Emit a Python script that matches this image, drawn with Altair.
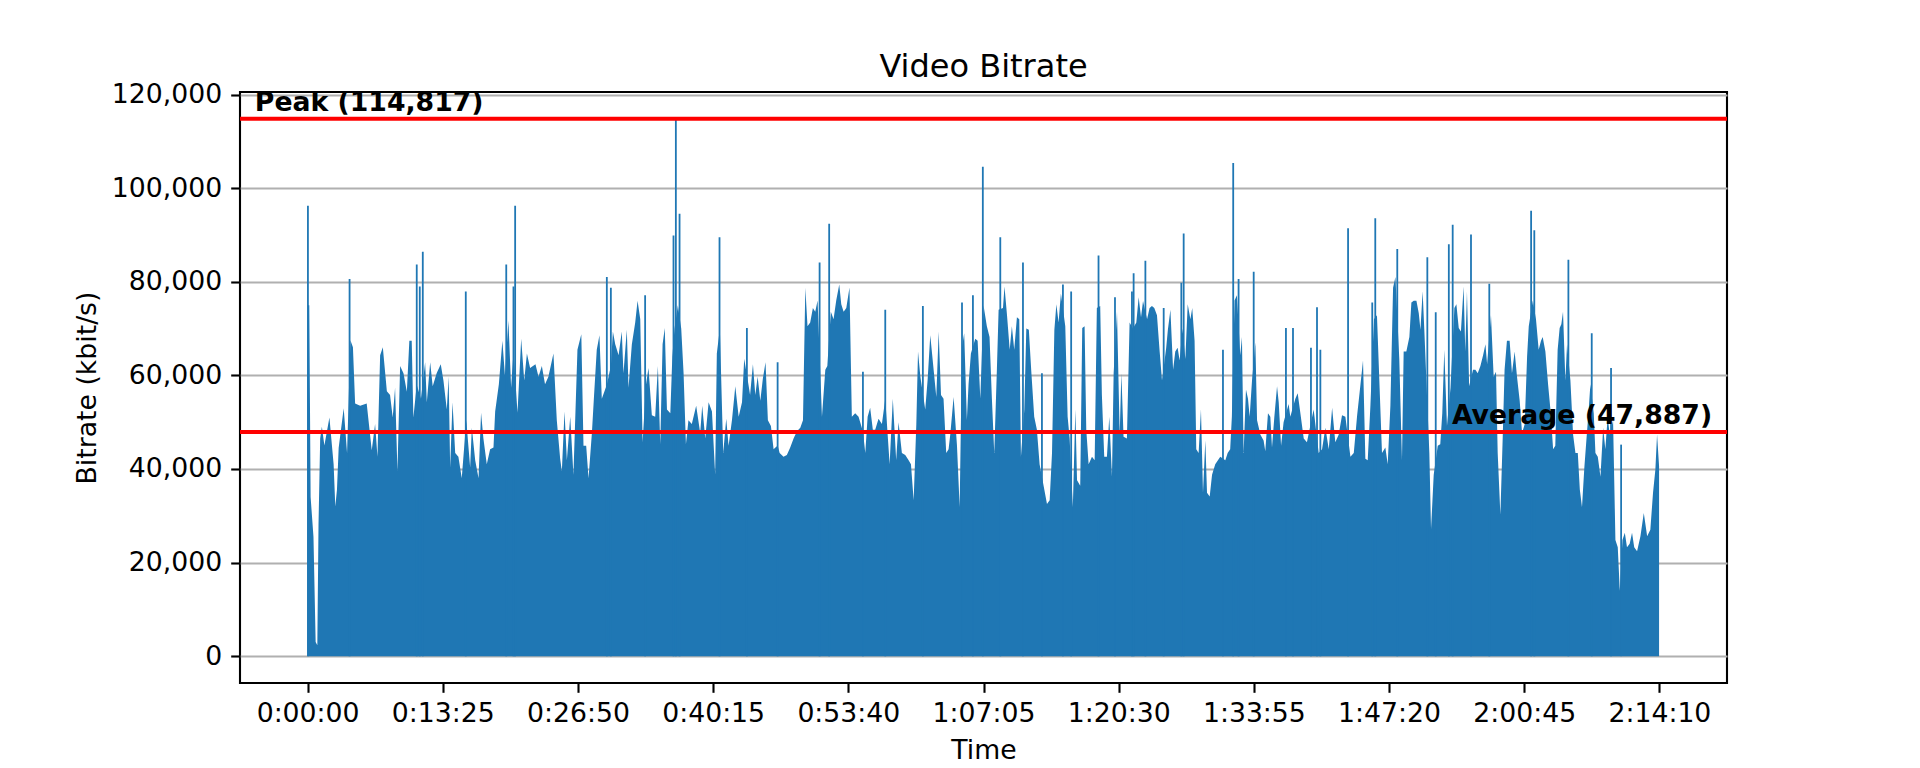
import altair as alt
import pandas as pd

# ---------------- data (seconds, kbit/s) ----------------
seg_a = [(0, 75000), (10, 75000), (18, 34000), (35, 25500), (48, 3000), (58, 2300), (65, 28000),
         (75, 46500), (85, 49000), (100, 45000), (130, 51000), (155, 41000), (165, 32000),
         (175, 35600), (185, 44500), (215, 53000), (235, 43400), (255, 67500), (270, 66000),
         (283, 54000), (313, 53500), (352, 54000), (382, 44000), (402, 49600), (416, 42600),
         (432, 64300), (448, 66000), (472, 56600), (491, 55800), (507, 51000), (521, 57350),
         (535, 39500), (551, 62000), (571, 60450), (591, 56500), (606, 67400), (620, 67400),
         (630, 51000), (650, 58000), (675, 55000), (700, 62800), (710, 54250), (730, 62800),
         (745, 57700), (769, 60500), (793, 62400), (809, 58900), (829, 52700), (840, 59700),
         (849, 40300), (863, 54250), (879, 43400), (898, 42600), (918, 38000), (945, 50400),
         (968, 40300), (978, 48800), (998, 41850)]
seg_b = [(1018, 38000), (1033, 52000), (1047, 46500), (1067, 41000), (1087, 44200), (1107, 44600),
         (1117, 52300), (1139, 58100), (1160, 67400), (1175, 60000), (1196, 71700), (1212, 57350),
         (1226, 65000), (1250, 52000), (1272, 67800), (1290, 58900), (1306, 64700), (1325, 61600),
         (1357, 62400), (1375, 59700), (1395, 62000), (1414, 58100), (1434, 59700), (1464, 64700),
         (1484, 50400), (1504, 42200), (1514, 39500), (1530, 52300), (1544, 41850), (1564, 51150),
         (1583, 38750), (1607, 65500), (1630, 68800), (1643, 44950), (1659, 44950), (1673, 38000),
         (1693, 47700), (1706, 55800), (1722, 65500), (1738, 68600), (1752, 55000), (1782, 58000),
         (1806, 62000), (1818, 69400), (1832, 66650), (1852, 64300), (1871, 69400), (1881, 60450),
         (1901, 69750), (1911, 57350), (1931, 66650), (1951, 71300), (1965, 75950), (1981, 72000),
         (1995, 45700)]
seg_c = [(2015, 58000), (2030, 61600), (2050, 51500), (2070, 51150), (2086, 62000), (2100, 45300),
         (2114, 66650), (2127, 70100), (2140, 52700), (2160, 51900), (2172, 64000), (2185, 70000),
         (2205, 75000), (2225, 70000), (2239, 60450), (2253, 45300), (2268, 50400), (2288, 49600),
         (2314, 53500), (2338, 47700), (2350, 53500), (2368, 46500), (2388, 54250), (2408, 52300),
         (2427, 38750), (2437, 64700), (2455, 70000), (2475, 43400), (2493, 50750), (2507, 44950),
         (2527, 50400), (2547, 57700), (2567, 51150), (2587, 54250), (2600, 63550), (2625, 58100),
         (2635, 55800), (2652, 62400), (2666, 55800), (2680, 59700), (2696, 54600), (2711, 59300),
         (2727, 62800), (2741, 50400), (2759, 49200), (2775, 44200), (2799, 45000), (2811, 43400),
         (2834, 42600), (2854, 43000), (2874, 44600), (2894, 46500), (2914, 48050), (2934, 48800),
         (2950, 50400), (2964, 78700), (2977, 70500), (2993, 71300)]
seg_d = [(3009, 74400), (3023, 73600), (3037, 76000), (3063, 51150), (3083, 61200), (3095, 62000),
         (3116, 73600), (3132, 72000), (3148, 76000), (3166, 79400), (3178, 75200), (3192, 73600),
         (3208, 74400), (3227, 78800), (3241, 51150), (3261, 51900), (3281, 51150), (3307, 48000),
         (3321, 43400), (3335, 51150), (3350, 53100), (3366, 48400), (3380, 48400), (3400, 50750),
         (3420, 49600), (3440, 55000), (3466, 41000), (3485, 55000), (3505, 41850), (3519, 50000),
         (3539, 43400), (3559, 43000), (3579, 41850), (3593, 41000), (3609, 33300), (3625, 49600),
         (3635, 65100), (3649, 59700), (3678, 52700), (3692, 58900), (3708, 68600), (3728, 61200),
         (3744, 55400), (3758, 69400), (3772, 55800), (3787, 55000), (3803, 43400), (3817, 44200),
         (3827, 47300), (3847, 55400), (3867, 45000), (3883, 31800), (3897, 66000), (3910, 69000),
         (3926, 50400), (3936, 58100), (3950, 64700), (3976, 67800), (3990, 67400)]
seg_e = [(4006, 55000), (4025, 75000), (4045, 70500), (4061, 68200), (4075, 55000), (4089, 43400),
         (4105, 61600), (4115, 74000), (4141, 74400), (4150, 79000), (4165, 72850), (4181, 65500),
         (4194, 70500), (4208, 65500), (4224, 72400), (4238, 72000), (4248, 42600), (4268, 52700),
         (4280, 70000), (4295, 69750), (4309, 61200), (4327, 51150), (4343, 48400), (4359, 41000),
         (4387, 35600), (4403, 32500), (4419, 33300), (4433, 43400), (4447, 69750), (4459, 75200),
         (4472, 71300), (4486, 77500), (4512, 70500), (4526, 51150), (4538, 46500), (4557, 31800),
         (4572, 52700), (4582, 37600), (4601, 36400), (4613, 70100), (4627, 70500), (4637, 48400),
         (4651, 41000), (4671, 42600), (4687, 41850), (4700, 74400), (4720, 74800), (4730, 55800),
         (4744, 42600), (4760, 42600), (4774, 51150), (4790, 38350), (4800, 60450), (4820, 73600),
         (4836, 47300), (4846, 60450), (4859, 46900), (4879, 46500), (4895, 71300), (4915, 70000),
         (4935, 71300), (4949, 76700), (4963, 72400), (4975, 75900), (4999, 72000)]
seg_f = [(5014, 74400), (5028, 74800), (5042, 74400), (5058, 72850), (5074, 65100), (5088, 58900),
         (5113, 65900), (5123, 69750), (5138, 74000), (5154, 61200), (5167, 65100), (5181, 65900),
         (5193, 63200), (5210, 70000), (5227, 63500), (5241, 75200), (5257, 72000), (5268, 74400),
         (5282, 67400), (5292, 44200), (5306, 43400), (5320, 52700), (5332, 34900), (5346, 46100),
         (5356, 34900), (5372, 34100), (5386, 38750), (5405, 41000), (5421, 41850), (5435, 42600),
         (5465, 41850), (5479, 43400), (5494, 44200), (5504, 51150), (5520, 76000), (5534, 77100),
         (5554, 64300), (5564, 68200), (5574, 43400), (5588, 57000), (5600, 55000), (5610, 51150),
         (5624, 58900), (5644, 67000), (5654, 50400), (5674, 47300), (5693, 46100), (5703, 43800),
         (5719, 51900), (5733, 51150), (5743, 44600), (5757, 51150), (5773, 57700), (5783, 54250),
         (5797, 44950), (5812, 50000), (5842, 53900), (5852, 51150), (5882, 55000), (5896, 56200),
         (5912, 51900), (5932, 46500), (5951, 45700), (5991, 52700)]
seg_g = [(6021, 43400), (6041, 44200), (6061, 48800), (6081, 44200), (6101, 53100), (6120, 45700),
         (6140, 47300), (6160, 51500), (6180, 51150), (6210, 42600), (6230, 43400), (6250, 51500),
         (6270, 58100), (6285, 63200), (6299, 42200), (6313, 41850), (6329, 53500), (6350, 72000),
         (6368, 72850), (6398, 43400), (6418, 44600), (6432, 41000), (6448, 53500), (6464, 78700),
         (6478, 81000), (6501, 63500), (6517, 41850), (6527, 65100), (6543, 65100), (6561, 68200),
         (6573, 75550), (6587, 75950), (6603, 75950), (6617, 73250), (6627, 69750), (6640, 78000),
         (6650, 69750), (6680, 43400), (6690, 27100), (6706, 38750), (6730, 44950), (6745, 45300),
         (6757, 51900), (6769, 65500), (6785, 49200), (6806, 57350), (6829, 74400), (6841, 75200),
         (6855, 70100), (6868, 69400), (6884, 79000), (6894, 65100), (6904, 77900), (6917, 57700),
         (6940, 61200), (6954, 61200), (6968, 60450), (6984, 62000)]
seg_h = [(7000, 64300), (7014, 66650), (7024, 62400), (7047, 72850), (7063, 59700), (7077, 60800),
         (7087, 43400), (7103, 30200), (7117, 46900), (7128, 61200), (7142, 67400), (7158, 67400),
         (7172, 60450), (7188, 65100), (7202, 59700), (7218, 54600), (7232, 47700), (7248, 49600),
         (7262, 64000), (7272, 70500), (7296, 76000), (7315, 72000), (7331, 65500), (7345, 67400),
         (7355, 68200), (7371, 65100), (7387, 58100), (7401, 52700), (7417, 44200), (7430, 44950),
         (7444, 65500), (7456, 70100), (7466, 70900), (7476, 73600), (7490, 58900), (7500, 66650),
         (7520, 58900), (7536, 47300), (7550, 43400), (7564, 43400), (7576, 35600), (7589, 31800),
         (7603, 40300), (7615, 46100), (7629, 52700), (7639, 58100), (7659, 51900), (7669, 43400),
         (7683, 42600), (7699, 38350), (7715, 48800), (7728, 44200), (7742, 51150), (7754, 47300),
         (7774, 50400), (7788, 24800), (7802, 23250), (7814, 14000), (7830, 24800), (7844, 26350),
         (7857, 23250), (7873, 24000), (7887, 26350), (7900, 23250), (7917, 22400), (7937, 25600),
         (7957, 30600), (7977, 25600), (7996, 27000), (8012, 34900), (8026, 39900), (8036, 47350),
         (8048, 40600)]

# narrow spikes (seconds, kbit/s)
spike_t = [2, 250, 650, 668, 686, 942, 1183, 1226, 1236, 1782, 1806, 2010, 2179, 2193, 2215,
           2453, 2616, 2799, 3049, 3106, 3307, 3440, 3664, 3897, 3962, 4021, 4125, 4260, 4373,
           4498, 4547, 4710, 4808, 4909, 4919, 4989, 5098, 5203, 5217, 5451, 5512, 5544, 5634,
           5826, 5868, 5975, 6011, 6031, 6196, 6340, 6358, 6489, 6668, 6718, 6796, 6819, 6928,
           7037, 7286, 7305, 7508, 7647, 7762, 7822]
spike_kbps = [96250, 80600, 83700, 79000, 86400, 77900, 83700, 79000, 96250, 81000, 78700, 77100,
              89900, 114817, 94550, 89500, 70100, 62800, 84100, 92400, 60800, 74000, 74800, 75550,
              77100, 104600, 89500, 84100, 60450, 79400, 77900, 85600, 76700, 77900, 81800, 84500,
              74400, 79800, 90300, 65500, 105400, 80600, 82150, 70100, 70100, 65900, 74550, 65500,
              91450, 75550, 93600, 87000, 85250, 73500, 88000, 92200, 90100, 79600, 95200, 91000,
              84700, 69000, 61600, 45200]

peak_kbps = 114817
avg_kbps = 47887

tick_seconds = [0, 805, 1610, 2415, 3220, 4025, 4830, 5635, 6440, 7245, 8050]
tick_labels = ["0:00:00", "0:13:25", "0:26:50", "0:40:15", "0:53:40", "1:07:05",
               "1:20:30", "1:33:55", "1:47:20", "2:00:45", "2:14:10"]
y_ticks = [0, 20000, 40000, 60000, 80000, 100000, 120000]

# ---------------- build tables ----------------
base = pd.DataFrame(seg_a + seg_b + seg_c + seg_d + seg_e + seg_f + seg_g + seg_h,
                    columns=["t", "kbps"]).sort_values("t")
spikes = pd.DataFrame({"t": spike_t, "kbps": spike_kbps})

x_domain = [-0.05 * 8050, 8050 * 1.05]
y_domain = [-5741, 120558]
span = x_domain[1] - x_domain[0]

label_expr = " : ".join(f"datum.value == {s} ? '{l}'" for s, l in zip(tick_seconds, tick_labels)) + " : ''"

FONT = "DejaVu Sans"
BLUE = "#1f77b4"

xscale = alt.Scale(domain=x_domain, nice=False, zero=False)
yscale = alt.Scale(domain=y_domain, nice=False, zero=False)

x_axis = alt.Axis(values=tick_seconds, labelExpr=label_expr, title="Time", grid=False,
                  domain=False, ticks=True, tickSize=9.3, tickWidth=2.1, tickColor="black",
                  labelFont=FONT, labelFontSize=26.7, labelColor="black", labelPadding=8,
                  labelOverlap=False, labelFlush=False, labelBound=False,
                  titleFont=FONT, titleFontSize=26.7, titleFontWeight="normal",
                  titleColor="black", titlePadding=10)
y_axis = alt.Axis(values=y_ticks, format=",d", title="Bitrate (kbit/s)", grid=True,
                  gridColor="#b0b0b0", gridWidth=2.1, domain=False, tickSize=9.3,
                  tickWidth=2.1, tickColor="black", labelFont=FONT, labelFontSize=26.7,
                  labelColor="black", labelPadding=9, labelOverlap=False, labelFlush=False,
                  titleFont=FONT, titleFontSize=26.7, titleFontWeight="normal",
                  titleColor="black", titlePadding=10)

area = alt.Chart(base).mark_area(color=BLUE, interpolate="linear", opacity=1).encode(
    x=alt.X("t:Q", scale=xscale, axis=x_axis),
    y=alt.Y("kbps:Q", scale=yscale, axis=y_axis, stack=None),
    y2=alt.datum(0),
)

spike_rules = alt.Chart(spikes).mark_rule(color=BLUE, strokeWidth=1.8).encode(
    x="t:Q", y="kbps:Q", y2=alt.datum(0)
)

lines = pd.DataFrame({"v": [peak_kbps, avg_kbps],
                      "label": [f"Peak ({peak_kbps:,})", f"Average ({avg_kbps:,})"],
                      "tx": [x_domain[0] + 0.01 * span, x_domain[0] + 0.99 * span]})

red_rules = alt.Chart(lines).mark_rule(color="red", strokeWidth=4).encode(y="v:Q")

peak_text = alt.Chart(lines.iloc[[0]]).mark_text(
    align="left", baseline="alphabetic", dy=-8, font=FONT, fontSize=26.7,
    fontWeight="bold", color="black").encode(x="tx:Q", y="v:Q", text="label:N")
avg_text = alt.Chart(lines.iloc[[1]]).mark_text(
    align="right", baseline="alphabetic", dy=-8, font=FONT, fontSize=26.7,
    fontWeight="bold", color="black").encode(x="tx:Q", y="v:Q", text="label:N")

chart = alt.layer(area, spike_rules, red_rules, peak_text, avg_text).properties(
    width=1487, height=591,
    title=alt.TitleParams("Video Bitrate", font=FONT, fontSize=32, fontWeight="normal",
                          color="black", anchor="middle", baseline="alphabetic",
                          offset=16, dy=43),
    padding={"left": 232, "top": 84, "right": 181, "bottom": 84},
    autosize=alt.AutoSizeParams(type="none"),
).configure_view(stroke="black", strokeWidth=2.1)

chart.save("out.html", embed_options={"renderer": "svg", "actions": False})
